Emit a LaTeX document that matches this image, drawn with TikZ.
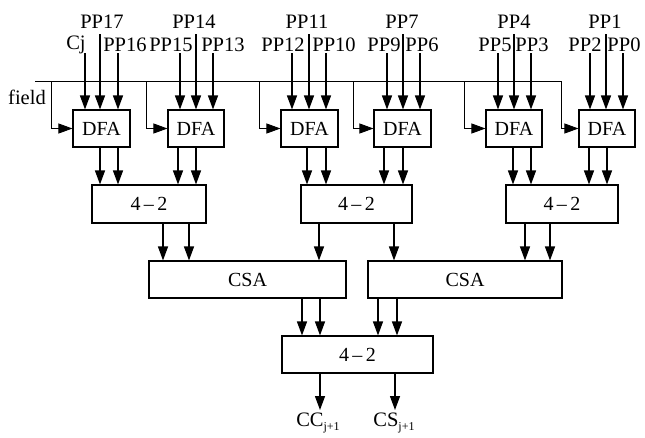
\documentclass[tikz,border=0pt]{standalone}
\usepackage{fontspec}
\setmainfont{Liberation Serif}
\usetikzlibrary{arrows.meta}
\begin{document}
\begin{tikzpicture}[x=1pt,y=-1pt,
  box/.style={draw,line width=1.1pt,inner sep=0pt,minimum height=37pt,font=\fontsize{20}{20}\selectfont},
  arr/.style={line width=1.3pt,-{Triangle[length=14pt,width=10pt]}},
  thin/.style={line width=0.9pt},
  lbl/.style={inner sep=0pt,font=\fontsize{20.5}{20.5}\selectfont}]
\useasboundingbox (0,0) rectangle (645,437);
% boxes
\node[box,minimum width=57pt] (d1) at (101.5,128.5) {DFA};
\node[box,minimum width=56pt] (d2) at (196,128.5) {DFA};
\node[box,minimum width=57pt] (d3) at (309.5,128.5) {DFA};
\node[box,minimum width=57pt] (d4) at (402.5,128.5) {DFA};
\node[box,minimum width=56pt] (d5) at (514,128.5) {DFA};
\node[box,minimum width=56pt] (d6) at (607,128.5) {DFA};
\node[box,minimum width=114pt,minimum height=38pt] (f1) at (149,204) {4\,--\,2};
\node[box,minimum width=111pt,minimum height=38pt] (f2) at (356.5,204) {4\,--\,2};
\node[box,minimum width=112pt,minimum height=38pt] (f3) at (562,204) {4\,--\,2};
\node[box,minimum width=197pt] (c1) at (247.5,279.5) {CSA};
\node[box,minimum width=194pt] (c2) at (465,279.5) {CSA};
\node[box,minimum width=151pt] (g) at (357.5,354.5) {4\,--\,2};
% labels
\node[lbl] (l17) at (102,22) {PP17};
\node[lbl] (l14) at (194,22) {PP14};
\node[lbl] (l11) at (307,22) {PP11};
\node[lbl] (l7) at (402,22) {PP7};
\node[lbl] (l4) at (514,22) {PP4};
\node[lbl] (l1) at (605,22) {PP1};
\node[lbl] (lcj) at (76,45) {Cj};
\node[lbl] (l16) at (125,45) {PP16};
\node[lbl] (l15) at (171,45) {PP15};
\node[lbl] (l13) at (223,45) {PP13};
\node[lbl] (l12) at (283,45) {PP12};
\node[lbl] (l10) at (334,45) {PP10};
\node[lbl] (l9) at (384,45) {PP9};
\node[lbl] (l6) at (422,45) {PP6};
\node[lbl] (l5) at (495,45) {PP5};
\node[lbl] (l3) at (532,45) {PP3};
\node[lbl] (l2) at (585,45) {PP2};
\node[lbl] (l0) at (624,45) {PP0};
\node[lbl] (fld) at (27,97) {field};
\node[lbl] (occ) at (318,423) {CC\raisebox{-0.4ex}{\fontsize{12}{12}\selectfont j+1}};
\node[lbl] (ocs) at (394,423) {CS\raisebox{-0.4ex}{\fontsize{12}{12}\selectfont j+1}};
% inputs
\foreach \b/\xa/\xb/\xc in {d1/85/100/118,d2/180/196/213,d3/292/309/326,d4/387/403/420,d5/498/514/531,d6/590/606/623}{
  \draw[arr] (\xa,53) -- (\b.north -| \xa,0);
  \draw[arr] (\xb,34) -- (\b.north -| \xb,0);
  \draw[arr] (\xc,53) -- (\b.north -| \xc,0);
}
% field
\coordinate (fs) at (35,81);
\coordinate (fe) at (561,81);
\draw[thin] (fs) -- (fe);
\foreach \b/\x in {d1/51,d2/146,d3/259,d4/353,d5/464,d6/561}{
  \draw[thin,-{Triangle[length=14pt,width=10pt]}] (\x,81) |- (\b.west);
}
% DFA -> 4-2 -> CSA -> 4-2
\foreach \a/\b/\x in {d1/f1/100,d1/f1/118,d2/f1/178,d2/f1/196,d3/f2/307,d3/f2/326,d4/f2/384,d4/f2/403,d5/f3/513,d5/f3/531,d6/f3/589,d6/f3/607,
  f1/c1/163,f1/c1/189,f2/c1/319,f2/c2/394,f3/c2/525,f3/c2/550,
  c1/g/302,c1/g/320,c2/g/378,c2/g/397}{
  \draw[arr] (\a.south -| \x,0) -- (\b.north -| \x,0);
}
\draw[arr] (g.south -| 320,0) -- (320,410);
\draw[arr] (g.south -| 395,0) -- (395,410);
\end{tikzpicture}
\end{document}
